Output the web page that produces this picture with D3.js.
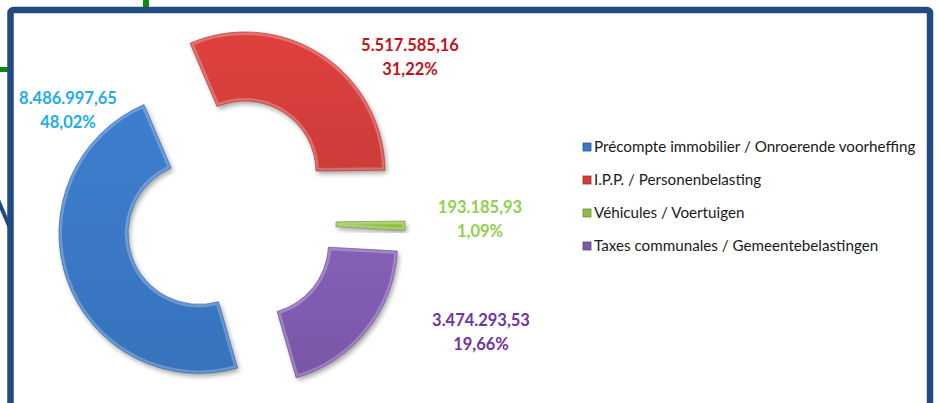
<!DOCTYPE html>
<html>
<head>
<meta charset="utf-8">
<script src="https://cdn.jsdelivr.net/npm/d3@7"></script>
<style>
  html, body { margin: 0; padding: 0; background: #fff; }
  svg { display: block; }
</style>
</head>
<body>
<div id="chart"></div>
<script>
// data
var categories = [
  "Précompte immobilier / Onroerende voorheffing",
  "I.P.P. / Personenbelasting",
  "Véhicules / Voertuigen",
  "Taxes communales / Gemeentebelastingen"
];
var amounts = [8486997.65, 5517585.16, 193185.93, 3474293.53];
var fills = ["#3a77c4", "#d33e3b", "#8fbc45", "#7d5aad"];
var labelColors = ["#23ade6", "#c0141c", "#92cf50", "#7232a0"];

// layout
var W = 940, H = 403;
var cx = 231, cy = 222, rIn = 71, rOut = 140;
var explode = [34, 52, 34, 34];
var explodeDir = [null, 15.6, null, null]; // degrees; null = slice mid angle
var firstAngle = 164; // degrees, clockwise from top
var labelPos = [[68, 98], [410, 45], [480, 207], [481, 320]];

var fmtNum = d3.formatLocale({decimal: ",", thousands: ".", grouping: [3]}).format(",.2f");
var total = d3.sum(amounts);
var fmtPct = function(v) { return (v * 100).toFixed(2).replace(".", ",") + "%"; };

var svg = d3.select("#chart").append("svg")
    .attr("width", W)
    .attr("height", H);

var defs = svg.append("defs");

var shadow = defs.append("filter")
    .attr("id", "shadow")
    .attr("x", "-20%").attr("y", "-20%")
    .attr("width", "140%").attr("height", "140%");
shadow.append("feGaussianBlur").attr("in", "SourceAlpha").attr("stdDeviation", 2.5);
shadow.append("feOffset").attr("dx", 1.5).attr("dy", 2.5).attr("result", "off");
shadow.append("feComponentTransfer").append("feFuncA").attr("type", "linear").attr("slope", 0.35);
var merge = shadow.append("feMerge");
merge.append("feMergeNode");
merge.append("feMergeNode").attr("in", "SourceGraphic");

// background connector lines behind the frame
svg.append("line")
    .attr("x1", 146).attr("y1", 0).attr("x2", 146).attr("y2", 12)
    .attr("stroke", "#0b8a12").attr("stroke-width", 6);
svg.append("line")
    .attr("x1", 0).attr("y1", 69.5).attr("x2", 10).attr("y2", 69.5)
    .attr("stroke", "#0b8a12").attr("stroke-width", 5);
svg.append("line")
    .attr("x1", -2).attr("y1", 200).attr("x2", 10).attr("y2", 228)
    .attr("stroke", "#214c82").attr("stroke-width", 4);

// frame
svg.append("rect")
    .attr("x", 10.5).attr("y", 10)
    .attr("width", 919.5).attr("height", 420)
    .attr("rx", 3)
    .attr("fill", "#fff")
    .attr("stroke", "#214c82")
    .attr("stroke-width", 6.5);

var pie = d3.pie()
    .sort(null)
    .startAngle(firstAngle * Math.PI / 180)
    .endAngle(firstAngle * Math.PI / 180 + 2 * Math.PI);

var arc = d3.arc().innerRadius(rIn).outerRadius(rOut);

var slices = pie(amounts);

var g = svg.append("g").attr("transform", "translate(" + cx + "," + cy + ")");

slices.forEach(function(d, i) {
  var grad = defs.append("linearGradient")
      .attr("id", "grad" + i)
      .attr("x1", 0).attr("y1", 0).attr("x2", 0).attr("y2", 1);
  grad.append("stop").attr("offset", "0%").attr("stop-color", d3.color(fills[i]).brighter(0.15));
  grad.append("stop").attr("offset", "100%").attr("stop-color", d3.color(fills[i]).darker(0.1));

  var clip = defs.append("clipPath").attr("id", "clip" + i);
  clip.append("path").attr("d", arc(d));
});

var sliceG = g.selectAll("g.slice")
    .data(slices)
    .join("g")
    .attr("class", "slice")
    .attr("transform", function(d, i) {
      var a = explodeDir[i] === null ? (d.startAngle + d.endAngle) / 2 : explodeDir[i] * Math.PI / 180;
      return "translate(" + (explode[i] * Math.sin(a)) + "," + (-explode[i] * Math.cos(a)) + ")";
    });

sliceG.append("path")
    .attr("d", arc)
    .attr("fill", function(d, i) { return "url(#grad" + i + ")"; })
    .attr("filter", "url(#shadow)");

// bevel highlight
sliceG.append("path")
    .attr("d", arc)
    .attr("fill", "none")
    .attr("clip-path", function(d, i) { return "url(#clip" + i + ")"; })
    .attr("stroke", "#fff")
    .attr("stroke-opacity", 0.25)
    .attr("stroke-width", 6);

sliceG.append("path")
    .attr("d", arc)
    .attr("fill", "none")
    .attr("stroke", function(d, i) { return d3.color(fills[i]).darker(0.7); })
    .attr("stroke-opacity", 0.6)
    .attr("stroke-width", 1);

// data labels
var labels = svg.append("g")
    .style("font-family", "Lato, 'Open Sans', sans-serif")
    .style("font-weight", "bold")
    .style("font-size", "16.5px")
    .attr("text-anchor", "middle");

amounts.forEach(function(v, i) {
  var t = labels.append("text")
      .attr("x", labelPos[i][0])
      .attr("y", labelPos[i][1])
      .attr("fill", labelColors[i]);
  t.append("tspan").attr("x", labelPos[i][0]).attr("dy", "0.35em").text(fmtNum(v));
  t.append("tspan").attr("x", labelPos[i][0]).attr("dy", "1.45em").text(fmtPct(v / total));
});

// legend
var legend = svg.append("g")
    .attr("transform", "translate(583,147)")
    .style("font-family", "Lato, 'Open Sans', sans-serif")
    .style("font-size", "15.2px");

var items = legend.selectAll("g")
    .data(categories)
    .join("g")
    .attr("transform", function(d, i) { return "translate(0," + (i * 33) + ")"; });

items.append("rect")
    .attr("x", 0).attr("y", -4)
    .attr("width", 8).attr("height", 8)
    .attr("fill", function(d, i) { return fills[i]; })
    .attr("stroke", function(d, i) { return d3.color(fills[i]).darker(0.8); })
    .attr("stroke-width", 0.8);

items.append("text")
    .attr("x", 11)
    .attr("dy", "0.35em")
    .attr("fill", "#1a1a1a")
    .text(function(d) { return d; });
</script>
</body>
</html>
